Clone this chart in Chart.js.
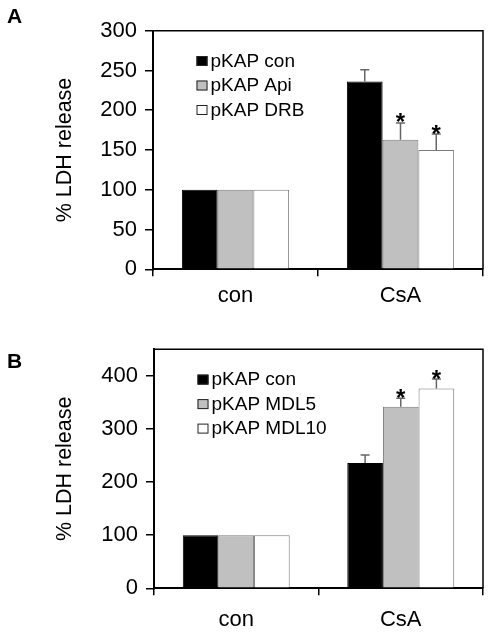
<!DOCTYPE html>
<html>
<head>
<meta charset="utf-8">
<script src="https://cdn.jsdelivr.net/npm/chart.js@4.4.1/dist/chart.umd.min.js"></script>
<style>
  html, body { margin: 0; padding: 0; background: #fff; }
  #page { position: relative; width: 490px; height: 633px; overflow: hidden; }
  canvas { position: absolute; left: 0; }
  .panel { position: absolute; left: 7px; font: bold 21px 'Liberation Sans', Arial, sans-serif; line-height: 21px; color: #000; }
</style>
</head>
<body>
<div id="page">
  <canvas id="chartA" width="490" height="316" style="top:0"></canvas>
  <canvas id="chartB" width="490" height="317" style="top:316px"></canvas>
  <div class="panel" style="top:5px">A</div>
  <div class="panel" style="top:350px">B</div>
</div>
<script>
const categories = ['con', 'CsA'];

// panel A
const labelsA = ['pKAP con', 'pKAP Api', 'pKAP DRB'];
const conA = [100, 236];
const apiA = [100, 163];
const drbA = [100, 150];
const conErrA = [0, 15];
const apiErrA = [0, 21];
const drbErrA = [0, 20];
const starsA = [[false, false], [false, true], [false, true]];
const ticksA = [0, 50, 100, 150, 200, 250, 300];

// panel B
const labelsB = ['pKAP con', 'pKAP MDL5', 'pKAP MDL10'];
const conB = [100, 236];
const mdl5B = [100, 342];
const mdl10B = [100, 376];
const conErrB = [0, 15];
const mdl5ErrB = [0, 16];
const mdl10ErrB = [0, 18];
const starsB = [[false, false], [false, true], [false, true]];
const ticksB = [0, 100, 200, 300, 400];

const fills = ['#000000', '#c0c0c0', '#ffffff'];
const edges = ['#000000', '#7a7a7a', '#7a7a7a'];
const FONT = "'Liberation Sans', Arial, sans-serif";

Chart.defaults.font.family = FONT;
Chart.defaults.color = '#000';

// error bars (upper half only) + significance stars
const errorBars = {
    id: 'errorBars',
    afterDatasetsDraw(chart) {
        const ctx = chart.ctx;
        const y = chart.scales.y;
        chart.data.datasets.forEach((ds, d) => {
            const meta = chart.getDatasetMeta(d);
            meta.data.forEach((bar, i) => {
                const err = ds.errors[i];
                if (!err) return;
                const top = y.getPixelForValue(ds.data[i] + err);
                ctx.save();
                ctx.strokeStyle = '#666';
                ctx.lineWidth = 1.5;
                ctx.beginPath();
                ctx.moveTo(bar.x, bar.y);
                ctx.lineTo(bar.x, top);
                ctx.moveTo(bar.x - 4.5, top);
                ctx.lineTo(bar.x + 4.5, top);
                ctx.stroke();
                if (ds.stars[i]) {
                    ctx.fillStyle = '#000';
                    ctx.font = 'bold 24px ' + FONT;
                    ctx.textAlign = 'center';
                    ctx.textBaseline = 'alphabetic';
                    ctx.fillText('*', bar.x, top + 7.5);
                }
                ctx.restore();
            });
        });
    }
};

// frame (top/right) and the legend inside the plot
const frameLegend = {
    id: 'frameLegend',
    afterDraw(chart) {
        const {ctx, chartArea: a} = chart;
        ctx.save();
        ctx.strokeStyle = '#000';
        ctx.lineWidth = 1.5;
        ctx.beginPath();
        ctx.moveTo(a.left, a.top);
        ctx.lineTo(a.right, a.top);
        ctx.lineTo(a.right, a.bottom);
        ctx.stroke();

        ctx.font = '19px ' + FONT;
        ctx.textAlign = 'left';
        ctx.textBaseline = 'alphabetic';
        chart.data.datasets.forEach((ds, i) => {
            const x = a.left + 43.5;
            const y = a.top + 25.3 + i * 24.5;
            ctx.fillStyle = ds.backgroundColor;
            ctx.fillRect(x, y, 11, 10);
            ctx.strokeStyle = '#222';
            ctx.lineWidth = 1;
            ctx.strokeRect(x + 0.5, y + 0.5, 10, 9);
            ctx.fillStyle = '#000';
            ctx.fillText(ds.label, x + 14, y + 10.5);
        });
        ctx.restore();
    }
};

function makeChart(id, labels, series, errs, stars, ticks, max, pad, yWidth, xPad) {
    const datasets = series.map((data, i) => ({
        label: labels[i],
        data: data,
        errors: errs[i],
        stars: stars[i],
        backgroundColor: fills[i],
        borderColor: edges[i],
        borderWidth: 1,
        barPercentage: 1,
        categoryPercentage: 0.65
    }));
    return new Chart(document.getElementById(id).getContext('2d'), {
        type: 'bar',
        data: { labels: categories, datasets: datasets },
        plugins: [errorBars, frameLegend],
        options: {
            responsive: false,
            animation: false,
            devicePixelRatio: 1,
            layout: { padding: pad },
            plugins: { legend: { display: false }, tooltip: { enabled: false } },
            scales: {
                x: {
                    offset: true,
                    afterFit: s => { s.height = 40; },
                    border: { display: true, color: '#000', width: 2 },
                    grid: { display: true, offset: true, drawOnChartArea: false, drawTicks: true, tickLength: 7, color: '#000', lineWidth: 1.5 },
                    ticks: { color: '#000', padding: xPad, font: { size: 22 } }
                },
                y: {
                    min: 0,
                    max: max,
                    afterBuildTicks: s => { s.ticks = ticks.map(v => ({ value: v })); },
                    afterFit: s => { s.width = yWidth; },
                    border: { display: true, color: '#000', width: 2 },
                    grid: { display: true, drawOnChartArea: false, drawTicks: true, tickLength: 8, color: '#000', lineWidth: 1.5 },
                    ticks: { color: '#000', padding: 8, font: { size: 22 } },
                    title: { display: true, text: '% LDH release', color: '#000', font: { size: 21.5 }, padding: { top: 52, bottom: 0 } }
                }
            }
        }
    });
}

makeChart('chartA', labelsA, [conA, apiA, drbA], [conErrA, apiErrA, drbErrA], starsA, ticksA, 300,
    { top: 30.7, right: 7, bottom: 6.7, left: 0 }, 153, 6);
makeChart('chartB', labelsB, [conB, mdl5B, mdl10B], [conErrB, mdl5ErrB, mdl10ErrB], starsB, ticksB, 450,
    { top: 33.3, right: 7, bottom: 4.7, left: 0 }, 154, 11);
</script>
</body>
</html>
